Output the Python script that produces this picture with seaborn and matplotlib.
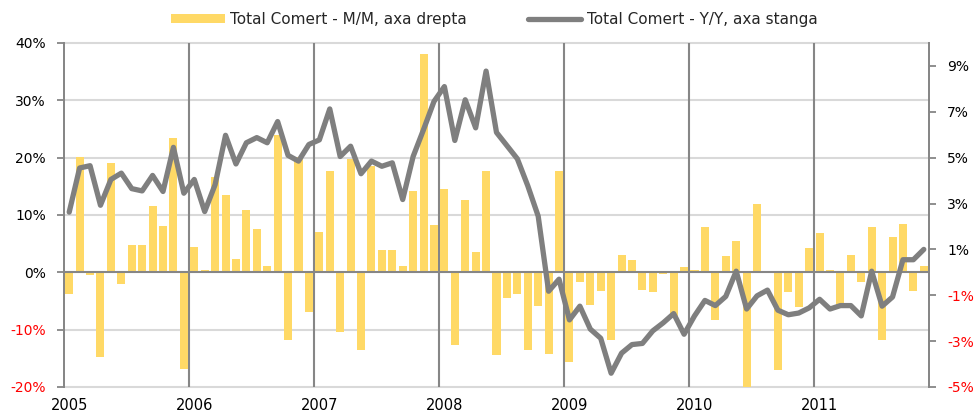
import numpy as np
import pandas as pd
import matplotlib
matplotlib.use('Agg')
import matplotlib.pyplot as plt
import seaborn as sns
from matplotlib.patches import Patch
from matplotlib.lines import Line2D
from matplotlib.ticker import FixedLocator, FixedFormatter

# ---------------- data ----------------
years = ['2005', '2006', '2007', '2008', '2009', '2010', '2011']

# Total Comert - M/M (right axis, %), Jan 2005 .. Nov 2011
mm_values = [
    -0.95, 5.03, -0.10, -3.69, 4.77, -0.51, 1.21, 1.21, 2.88, 2.02, 5.86, -4.23,   # 2005
    1.10, 0.09, 4.14, 3.37, 0.58, 2.72, 1.90, 0.29, 6.00, -2.94, 5.03, -1.74,      # 2006
    1.74, 4.43, -2.62, 4.94, -3.40, 4.65, 0.96, 0.96, 0.26, 3.53, 9.50, 2.08,      # 2007
    3.63, -3.18, 3.15, 0.90, 4.43, -3.62, -1.12, -0.93, -3.37, -1.48, -3.55, 4.40, # 2008
    -3.92, -0.44, -1.44, -0.83, -2.94, 0.77, 0.52, -0.78, -0.87, -0.07, -1.89, 0.25,  # 2009
    0.09, 1.99, -2.09, 0.73, 1.38, -5.10, 2.98, 0.02, -4.24, -0.84, -1.51, 1.08,   # 2010
    1.70, 0.09, -1.41, 0.77, -0.44, 1.96, -2.94, 1.56, 2.09, -0.83, 0.26,          # 2011
]

# Total Comert - Y/Y (left axis, %)
yoy_values = [
    10.5, 18.2, 18.6, 11.7, 16.2, 17.3, 14.6, 14.2, 16.9, 14.1, 21.8, 13.8,        # 2005
    16.2, 10.6, 15.3, 23.9, 18.9, 22.6, 23.5, 22.6, 26.3, 20.4, 19.4, 22.3,        # 2006
    23.1, 28.5, 20.2, 22.0, 17.2, 19.4, 18.5, 19.1, 12.7, 20.2, 24.9, 29.8,        # 2007
    32.4, 23.0, 30.1, 25.2, 35.1, 24.4, 22.1, 19.8, 15.1, 9.8, -3.3, -1.2,         # 2008
    -8.3, -5.9, -9.9, -11.5, -17.6, -14.1, -12.6, -12.4, -10.2, -8.8, -7.2, -10.8, # 2009
    -7.6, -4.9, -5.8, -4.2, 0.2, -6.4, -4.1, -3.1, -6.6, -7.4, -7.1, -6.2,         # 2010
    -4.7, -6.4, -5.8, -5.8, -7.6, 0.2, -5.9, -4.3, 2.2, 2.2, 4.0,                  # 2011
]

left_ticks = [-20, -10, 0, 10, 20, 30, 40]
right_ticks = [-5, -3, -1, 1, 3, 5, 7, 9]
bar_label = 'Total Comert - M/M, axa drepta'
line_label = 'Total Comert - Y/Y, axa stanga'

BAR_COLOR = '#FFD966'
LINE_COLOR = '#7F7F7F'
AXIS_GRAY = '#868686'
GRID_GRAY = '#D9D9D9'
NEG_COLOR = '#FF0000'

# ---------------- figure ----------------
sns.set_theme(style='white')
plt.rcParams['font.family'] = ['DejaVu Sans']

n = len(mm_values)
df = pd.DataFrame({'month': np.arange(n), 'mm': mm_values, 'yoy': yoy_values})

fig = plt.figure(figsize=(9.75, 4.17), dpi=100)
ax = fig.add_axes([64 / 975, 1 - 387 / 417, (929 - 64) / 975, (387 - 43) / 417])  # line, left axis
axb = ax.twinx()                                                                    # bars, right axis

sns.barplot(data=df, x='month', y='mm', color=BAR_COLOR, saturation=1,
            width=0.77, linewidth=0, ax=axb, zorder=2)
sns.lineplot(data=df, x='month', y='yoy', color=LINE_COLOR, lw=3.8,
             ax=ax, legend=False, solid_joinstyle='round', solid_capstyle='round')

# line axes drawn above bar axes
ax.set_zorder(axb.get_zorder() + 1)
ax.patch.set_visible(False)

lmin, lmax = left_ticks[0], left_ticks[-1]
rmin, rmax = -5, 10
axb.set_ylim(rmin, rmax)
ax.set_ylim(lmin, lmax)
ax.set_xlim(-0.5, n - 0.5)

# horizontal gridlines (left-axis tick levels, expressed in bar-axis units)
ratio = (rmax - rmin) / (lmax - lmin)
for t in left_ticks:
    if t != 0:
        axb.axhline(t * ratio, color=GRID_GRAY, lw=1.5, zorder=0.5, clip_on=False)
axb.axhline(0, color=AXIS_GRAY, lw=1.5, zorder=3)

# year separators
for b in np.arange(12, n, 12):
    axb.axvline(b - 0.5, color=AXIS_GRAY, lw=1.5, zorder=1)

# x ticks
ax.set_xticks(np.arange(0, n, 12))
ax.set_xticklabels(years)
ax.xaxis.set_minor_locator(FixedLocator([]))
ax.tick_params(axis='x', which='both', length=0, pad=8, labelsize=10.5, labelcolor='black')
ax.set_xlabel('')
axb.set_xlabel('')
ax.set_ylabel('')
axb.set_ylabel('')


def style_axis(a, ticks, side):
    """non-negative labels as major ticks (black), negative as minor ticks (red)."""
    pos = [t for t in ticks if t >= 0]
    neg = [t for t in ticks if t < 0]
    a.yaxis.set_major_locator(FixedLocator(pos))
    a.yaxis.set_major_formatter(FixedFormatter([f'{t}%' for t in pos]))
    a.yaxis.set_minor_locator(FixedLocator(neg))
    a.yaxis.set_minor_formatter(FixedFormatter([f'{t}%' for t in neg]))
    left = side == 'left'
    a.tick_params(axis='y', which='both', left=left, right=not left,
                  labelleft=left, labelright=not left,
                  length=5, width=1.3, color=AXIS_GRAY, direction='out',
                  pad=8, labelsize=10)
    a.tick_params(axis='y', which='major', labelcolor='black')
    a.tick_params(axis='y', which='minor', labelcolor=NEG_COLOR)


style_axis(ax, left_ticks, 'left')
style_axis(axb, right_ticks, 'right')

for a in (ax, axb):
    for name, s in a.spines.items():
        if name in ('top', 'bottom'):
            s.set_visible(False)
        else:
            s.set_color(AXIS_GRAY)
            s.set_linewidth(1.3)

handles = [Patch(facecolor=BAR_COLOR, edgecolor='none', label=bar_label),
           Line2D([], [], color=LINE_COLOR, lw=3.8, label=line_label)]
fig.legend(handles=handles, loc='center', bbox_to_anchor=(0.507, 0.954), ncol=2,
           frameon=False, fontsize=11, handlelength=3.5, handleheight=0.55,
           handletextpad=0.35, columnspacing=4.0)

fig.savefig('out.png', dpi=100)
